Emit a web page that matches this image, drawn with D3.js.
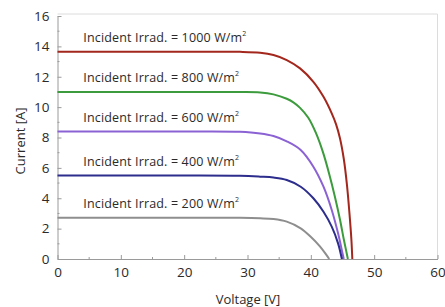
<!DOCTYPE html>
<html>
<head>
<meta charset="utf-8">
<script src="https://cdn.jsdelivr.net/npm/d3@7"></script>
<style>
  body { margin: 0; background: #fff; }
  text { font-family: "Open Sans", "Noto Sans", sans-serif; fill: #2a2a2a; }
</style>
</head>
<body>
<svg id="diagram" width="445" height="307"></svg>
<script>
// Kennlinien (Spannung V, Strom A)
var irradiances = [1000, 800, 600, 400, 200];
var colors = ["#a3271c", "#3c9b3c", "#8b62d4", "#2c2d8c", "#8e8e8e"];
var voltage1000 = [0, 10, 20, 28.8, 32, 34.1, 36.2, 38.3, 40.4, 42, 43.3, 44.0, 44.6, 45.2, 45.7, 46.1, 46.4, 46.55];
var current1000 = [13.65, 13.65, 13.65, 13.64, 13.58, 13.43, 13.1, 12.55, 11.67, 10.68, 9.59, 8.85, 7.95, 6.6, 4.9, 3.0, 1.3, 0];
var voltage800 = [0, 10, 20, 28.8, 32, 34.1, 36.2, 37.3, 38.3, 39.6, 40.8, 41.9, 42.9, 43.8, 44.6, 45.2, 45.6, 45.85];
var current800 = [11.0, 11.0, 11.0, 11.0, 10.97, 10.84, 10.55, 10.3, 9.95, 9.3, 8.3, 7.05, 5.6, 4.1, 2.6, 1.3, 0.5, 0];
var voltage600 = [0, 10, 20, 28.8, 32, 34.1, 36.2, 38.4, 40.4, 42.0, 43.3, 44.3, 45.0, 45.2];
var current600 = [8.4, 8.4, 8.4, 8.38, 8.27, 8.1, 7.75, 7.18, 6.08, 4.76, 3.23, 1.69, 0.38, 0];
var voltage400 = [0, 10, 20, 28.8, 32, 34.1, 36.2, 38.4, 40.4, 42.0, 43.3, 44.3, 44.9];
var current400 = [5.5, 5.5, 5.5, 5.48, 5.42, 5.36, 5.2, 4.76, 4.0, 3.11, 2.13, 1.03, 0];
var voltage200 = [0, 10, 20, 28.8, 32, 34.1, 36.2, 38.4, 39.9, 41.4, 42.4, 42.9];
var current200 = [2.72, 2.72, 2.72, 2.71, 2.68, 2.63, 2.46, 2.02, 1.5, 0.85, 0.3, 0];
var xTicks = [0, 10, 20, 30, 40, 50, 60];
var yTicks = [0, 2, 4, 6, 8, 10, 12, 14, 16];

var curves = [
    {v: voltage1000, i: current1000},
    {v: voltage800, i: current800},
    {v: voltage600, i: current600},
    {v: voltage400, i: current400},
    {v: voltage200, i: current200}
];

var svg = d3.select("#diagram");
var plotLeft = 57.5, plotRight = 437.5, plotTop = 16, plotBottom = 259;

var xScale = d3.scaleLinear().domain([0, 60]).range([plotLeft, plotRight]);
var yScale = d3.scaleLinear().domain([0, 16]).range([plotBottom, plotTop]);

// Rahmen oben/rechts (hell)
svg.append("path")
    .attr("d", "M" + xScale(0) + "," + (plotTop - 2) + "H" + plotRight + "V" + plotBottom)
    .attr("fill", "none")
    .attr("stroke", "#dcdcdc")
    .attr("stroke-width", 1);

// Nebenticks
var minorX = d3.range(5, 60, 10);
var minorY = d3.range(1, 16, 2);
svg.append("g").selectAll("line").data(minorX).enter().append("line")
    .attr("x1", d => xScale(d)).attr("x2", d => xScale(d))
    .attr("y1", plotBottom).attr("y2", plotBottom - 2)
    .attr("stroke", "#9a9a9a");
svg.append("g").selectAll("line").data(minorY).enter().append("line")
    .attr("y1", d => yScale(d)).attr("y2", d => yScale(d))
    .attr("x1", plotLeft).attr("x2", plotLeft + 2)
    .attr("stroke", "#9a9a9a");

// X-Achse
var gx = svg.append("g")
    .attr("transform", "translate(0," + plotBottom + ")")
    .call(d3.axisBottom(xScale).tickValues(xTicks).tickSizeInner(-4).tickSizeOuter(0).tickPadding(8));
gx.select(".domain").attr("stroke", "#9a9a9a");
gx.selectAll(".tick line").attr("stroke", "#9a9a9a");
gx.selectAll(".tick text").attr("font-size", 13.5).attr("fill", "#2a2a2a")
    .style("font-family", "'Open Sans', sans-serif");

// Y-Achse
var gy = svg.append("g")
    .attr("transform", "translate(" + plotLeft + ",0)")
    .call(d3.axisLeft(yScale).tickValues(yTicks).tickSizeInner(-4).tickSizeOuter(0).tickPadding(8));
gy.select(".domain").attr("stroke", "#9a9a9a");
gy.selectAll(".tick line").attr("stroke", "#9a9a9a");
gy.selectAll(".tick text").attr("font-size", 13.5).attr("fill", "#2a2a2a")
    .style("font-family", "'Open Sans', sans-serif");

svg.append("text")
    .attr("x", 248).attr("y", 304)
    .attr("text-anchor", "middle")
    .attr("font-size", 13)
    .text("Voltage [V]");

svg.append("text")
    .attr("transform", "translate(25,141) rotate(-90)")
    .attr("text-anchor", "middle")
    .attr("font-size", 13)
    .text("Current [A]");

// Kennlinien
var line = d3.line()
    .x(d => xScale(d[0]))
    .y(d => yScale(d[1]))
    .curve(d3.curveCatmullRom.alpha(0.5));

curves.forEach(function (c, k) {
    var pts = c.v.map((v, j) => [v, c.i[j]]);
    svg.append("path")
        .datum(pts)
        .attr("d", line)
        .attr("fill", "none")
        .attr("stroke", colors[k])
        .attr("stroke-width", 2);

    var t = svg.append("text")
        .attr("x", xScale(4) + 0.5)
        .attr("y", yScale(c.i[0]) - 9.5)
        .attr("font-size", 12.5)
        .attr("letter-spacing", 0.15)
        .text("Incident Irrad. = " + irradiances[k] + " W/m");
    t.append("tspan")
        .attr("dy", -6)
        .attr("font-size", 7)
        .text("2");
});
</script>
</body>
</html>
